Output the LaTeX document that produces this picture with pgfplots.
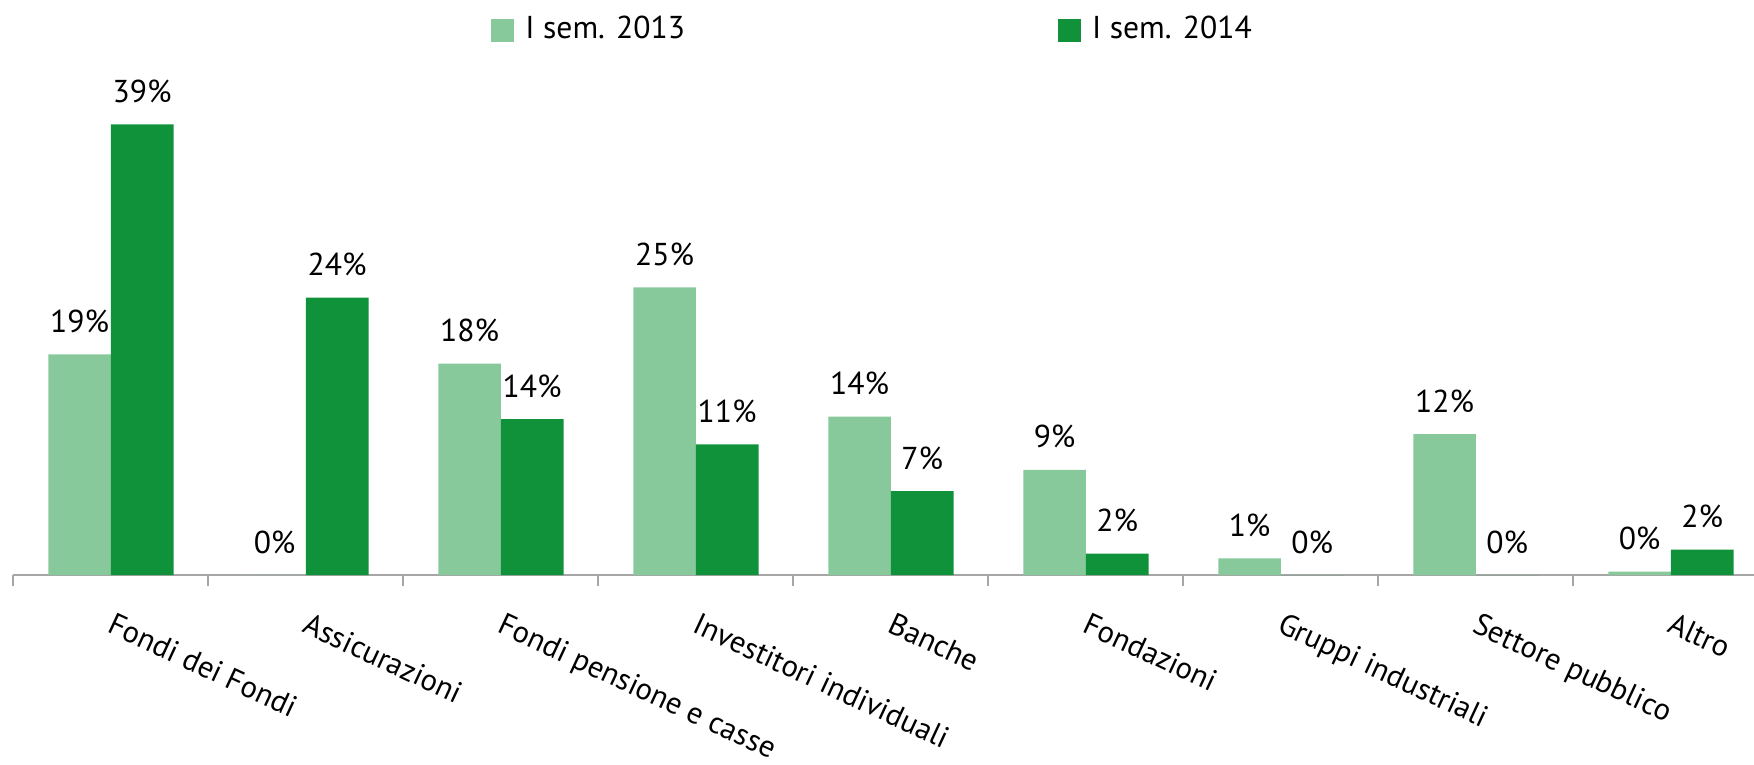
\documentclass[border=0pt]{standalone}
\usepackage{pgfplots}
\pgfplotsset{compat=1.18}
\usepackage{fontspec}
\setmainfont{PT Sans}

\definecolor{sem13}{RGB}{136, 201, 156}
\definecolor{sem14}{RGB}{16, 146, 58}
\definecolor{axisgray}{RGB}{166, 166, 166}

\begin{document}
\begin{tikzpicture}[font=\fontsize{9}{11}\selectfont]
  \path[use as bounding box] (0,0) rectangle (17.54cm,7.64cm);
  \begin{axis}[
      at={(0.134cm,1.89cm)}, anchor=south west,
      scale only axis,
      width=17.55cm, height=5.2cm,
      xmin=-0.5, xmax=8.5,
      ymin=0, ymax=45,
      ybar=0pt,
      bar width=0.626cm,
      axis x line*=bottom,
      axis y line=none,
      x axis line style={draw=axisgray, line width=0.6pt},
      xtick={0,...,8},
      xticklabels={Fondi dei Fondi, Assicurazioni, Fondi pensione e casse, Investitori individuali, Banche, Fondazioni, Gruppi industriali, Settore pubblico, Altro},
      major tick length=0pt,
      minor xtick={-0.5,0.5,...,8.5},
      minor tick length=0.11cm,
      xtick align=outside,
      minor tick style={draw=axisgray, line width=0.6pt},
      xticklabel style={font=\fontsize{8.7}{10}\selectfont, xshift=0.04cm, yshift=-0.36cm, rotate=-25, anchor=north west, inner sep=0pt},
      point meta=explicit symbolic,
      nodes near coords,
      every node near coord/.append style={anchor=base, yshift=0.22cm, inner sep=0pt, text=black},
      legend columns=2,
      legend image code/.code={\fill[#1] (0cm,-0.115cm) rectangle (0.23cm,0.115cm);},
      legend style={at={(0.272,1.048)}, anchor=west, draw=none, fill=none, inner sep=0pt,
        nodes={inner sep=0pt},
        /tikz/every odd column/.append style={column sep=0.11cm},
        /tikz/every even column/.append style={column sep=3.73cm}},
  ]
  \addplot[fill=sem13, draw=none] coordinates {
    (0,19.1)[19\%] (1,0)[0\%] (2,18.3)[18\%] (3,24.9)[25\%] (4,13.7)[14\%]
    (5,9.1)[9\%] (6,1.45)[1\%] (7,12.2)[12\%] (8,0.3)[0\%]};
  \addplot[fill=sem14, draw=none] coordinates {
    (0,39)[39\%] (1,24)[24\%] (2,13.5)[14\%] (3,11.3)[11\%] (4,7.26)[7\%]
    (5,1.84)[2\%] (6,0)[0\%] (7,0)[0\%] (8,2.2)[2\%]};
  \legend{I sem. 2013, I sem. 2014}
  \end{axis}
\end{tikzpicture}
\end{document}
